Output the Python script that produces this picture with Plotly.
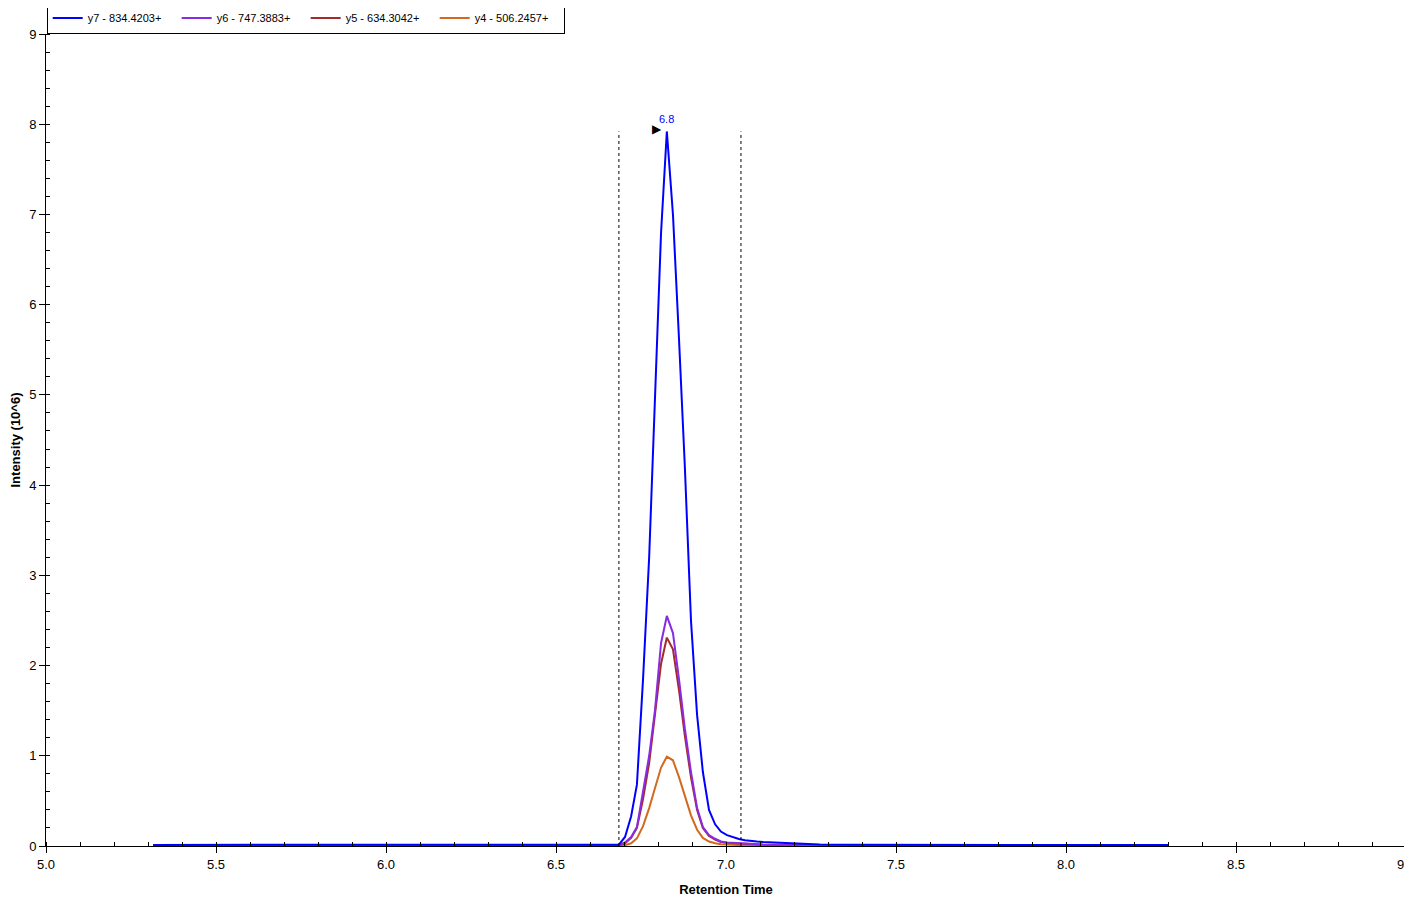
import plotly.graph_objects as go

# ---------------- data ----------------
times = [5.315, 6.0, 6.5, 6.65, 6.668, 6.685, 6.703, 6.721, 6.738, 6.756, 6.774, 6.791,
         6.809, 6.826, 6.844, 6.862, 6.879, 6.897, 6.915, 6.932, 6.950, 6.968, 6.985,
         7.003, 7.021, 7.038, 7.056, 7.074, 7.091, 7.109, 7.144, 7.188, 7.232, 7.276,
         7.365, 7.50, 7.66, 8.30]

y7 = [0.012, 0.012, 0.012, 0.012, 0.012, 0.015, 0.10, 0.33, 0.68, 1.85, 3.2, 5.0,
      6.8, 7.92, 7.0, 5.6, 4.2, 2.5, 1.45, 0.82, 0.40, 0.24, 0.16,
      0.12, 0.095, 0.078, 0.065, 0.055, 0.05, 0.045, 0.038, 0.03, 0.022, 0.016,
      0.014, 0.013, 0.01, 0.01]

y6 = [0.005, 0.005, 0.005, 0.005, 0.005, 0.01, 0.04, 0.10, 0.21, 0.59, 1.0, 1.5,
      2.25, 2.55, 2.36, 1.84, 1.30, 0.82, 0.42, 0.21, 0.12, 0.08, 0.05,
      0.04, 0.035, 0.03, 0.025, 0.02, 0.018, 0.016, 0.014, 0.012, 0.01, 0.009,
      0.008, 0.008, 0.007, 0.007]

y5 = [0.004, 0.004, 0.004, 0.004, 0.004, 0.01, 0.03, 0.09, 0.20, 0.52, 0.92, 1.45,
      2.02, 2.31, 2.18, 1.72, 1.22, 0.76, 0.40, 0.20, 0.11, 0.07, 0.045,
      0.035, 0.03, 0.025, 0.02, 0.017, 0.015, 0.013, 0.011, 0.01, 0.009, 0.008,
      0.007, 0.007, 0.006, 0.006]

y4 = [0.002, 0.002, 0.002, 0.002, 0.002, 0.005, 0.01, 0.03, 0.085, 0.22, 0.42, 0.64,
      0.87, 0.99, 0.95, 0.76, 0.55, 0.34, 0.18, 0.09, 0.05, 0.03, 0.02,
      0.015, 0.012, 0.01, 0.009, 0.008, 0.007, 0.006, 0.005, 0.004, 0.004, 0.003,
      0.003, 0.003, 0.003, 0.003]

series_names = ["y7 - 834.4203+", "y6 - 747.3883+", "y5 - 634.3042+", "y4 - 506.2457+"]
series_vals = [y7, y6, y5, y4]
series_colors = ["#0000FF", "#8A2BE2", "#A52A2A", "#D2691E"]

peak_start = 6.685
peak_end = 7.044
apex_time = 6.826
apex_value = 7.92
apex_label = "6.8"

x_ticks = [5.0, 5.5, 6.0, 6.5, 7.0, 7.5, 8.0, 8.5, 9.0]
y_ticks = [0, 1, 2, 3, 4, 5, 6, 7, 8, 9]

# ---------------- figure ----------------
FONT = "Liberation Sans, Arial, sans-serif"
fig = go.Figure()

# draw in reverse so y7 lies on top, legend keeps y7 first
for i in reversed(range(len(series_names))):
    fig.add_trace(go.Scatter(
        x=times, y=series_vals[i], mode="lines", name=series_names[i],
        line=dict(color=series_colors[i], width=2),
        legendrank=i + 1,
    ))

for xb in (peak_start, peak_end):
    fig.add_shape(type="line", xref="x", yref="y", x0=xb, x1=xb, y0=0, y1=apex_value,
                  line=dict(color="black", width=1, dash="dot"))

fig.add_annotation(x=apex_time, y=apex_value, text=apex_label, showarrow=False,
                   yshift=12, font=dict(color="#0000FF", size=11, family=FONT))
fig.add_annotation(x=apex_time, y=apex_value, text="\u25B6", showarrow=False,
                   xshift=-10, yshift=2, font=dict(color="black", size=12, family="DejaVu Sans"))

# page body has an 8px margin, so the figure is sized to fit inside it
fig.update_layout(
    width=1404, height=893,
    margin=dict(l=38, r=6, t=26, b=55, autoexpand=False),
    paper_bgcolor="white", plot_bgcolor="white",
    font=dict(family=FONT, size=13, color="black"),
    showlegend=True,
    legend=dict(orientation="h", x=0.0005, y=1.0197, xanchor="left", yanchor="middle",
                bgcolor="white", bordercolor="black", borderwidth=1,
                font=dict(size=11, family=FONT), entrywidth=84,
                tracegroupgap=0, itemwidth=30),
    xaxis=dict(range=[5, 9], tickvals=x_ticks, ticktext=[f"{v:.1f}" for v in x_ticks],
               ticks="outside", ticklen=6, tickcolor="black", showline=True,
               linecolor="black", linewidth=1, showgrid=False, zeroline=False,
               automargin=False, ticklabeloverflow="allow",
               minor=dict(dtick=0.1, ticks="inside", ticklen=4, tickcolor="black", showgrid=False),
               title=dict(text="<b>Retention Time</b>", font=dict(size=13), standoff=14),
               tickfont=dict(size=13)),
    yaxis=dict(range=[0, 9], tickvals=y_ticks, ticks="outside", ticklen=6, tickcolor="black",
               showline=True, linecolor="black", linewidth=1, showgrid=False, zeroline=False,
               automargin=False, ticklabeloverflow="allow",
               minor=dict(dtick=0.2, ticks="inside", ticklen=4, tickcolor="black", showgrid=False),
               title=dict(text="<b>Intensity (10^6)</b>", font=dict(size=13), standoff=20),
               tickfont=dict(size=13)),
)

fig.write_html("out.html")
